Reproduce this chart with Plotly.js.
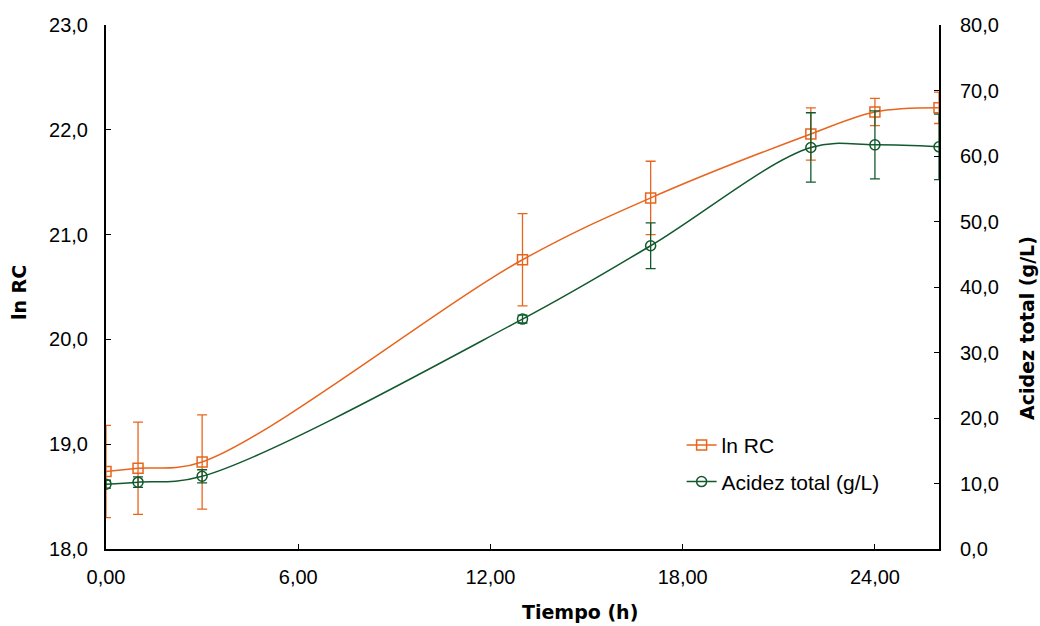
<!DOCTYPE html>
<html>
<head>
<meta charset="utf-8">
<script src="https://cdn.plot.ly/plotly-3.0.1.min.js"></script>
<style>html,body{margin:0;padding:0;background:#fff;}#chart{width:1040px;height:626px;}</style>
</head>
<body>
<div id="chart"></div>
<script>
const tiempo = [0, 1, 3, 13, 17, 22, 24, 26];
const lnRC = [18.74, 18.77, 18.83, 20.76, 21.35, 21.96, 22.17, 22.21];
const lnRCErr = [0.44, 0.44, 0.45, 0.44, 0.35, 0.25, 0.13, 0.15];
const acidez = [9.9, 10.2, 11.1, 35.1, 46.3, 61.3, 61.7, 61.4];
const acidezErr = [0.6, 0.8, 1.0, 0.6, 3.5, 5.3, 5.2, 5.0];

const xTitle = 'Tiempo (h)';
const yTitle = 'ln RC';
const y2Title = 'Acidez total (g/L)';

const orange = '#E8651E';
const green = '#12592E';
const font = 'Liberation Sans, Arial, sans-serif';
const titleFont = {family: 'DejaVu Sans, Liberation Sans, sans-serif', size: 19, color: '#000'};

const traces = [
  {
    x: tiempo, y: lnRC, name: 'ln RC', type: 'scatter', mode: 'lines+markers',
    line: {color: orange, width: 1.5, shape: 'spline', smoothing: 1},
    marker: {symbol: 'square-open', size: 10, color: orange, line: {width: 1.5, color: orange}},
    error_y: {type: 'data', array: lnRCErr, visible: true, color: orange, thickness: 1.3, width: 5},
    legend: 'legend', yaxis: 'y'
  },
  {
    x: tiempo, y: acidez, name: 'Acidez total (g/L)', type: 'scatter', mode: 'lines+markers',
    line: {color: green, width: 1.5, shape: 'spline', smoothing: 1},
    marker: {symbol: 'circle-open', size: 10, color: green, line: {width: 1.5, color: green}},
    error_y: {type: 'data', array: acidezErr, visible: true, color: green, thickness: 1.3, width: 5},
    legend: 'legend2', yaxis: 'y2'
  }
];

const axisCommon = {
  showgrid: false, zeroline: false, showline: true, linecolor: '#000', linewidth: 2,
  ticks: 'inside', ticklen: 5, tickwidth: 1, tickcolor: '#000',
  tickfont: {family: font, size: 20, color: '#000'}
};

const layout = {
  width: 1040, height: 626,
  margin: {l: 106, r: 101, t: 25, b: 77},
  paper_bgcolor: '#fff', plot_bgcolor: '#fff',
  separators: ', ',
  font: {family: font, color: '#000'},
  xaxis: Object.assign({}, axisCommon, {
    range: [0, 26], tickvals: [0, 6, 12, 18, 24], tickformat: '.2f',
    ticklabelstandoff: 9
  }),
  yaxis: Object.assign({}, axisCommon, {
    range: [18, 23], dtick: 1, tick0: 18, tickformat: '.1f',
    ticklabelstandoff: 12
  }),
  yaxis2: Object.assign({}, axisCommon, {
    overlaying: 'y', side: 'right', anchor: 'x',
    range: [0, 80], dtick: 10, tick0: 0, tickformat: '.1f',
    ticklabelstandoff: 15
  }),
  annotations: [
    {text: '<b>' + xTitle + '</b>', xref: 'paper', yref: 'paper', x: 0.569, y: -0.120,
     xanchor: 'center', yanchor: 'middle', showarrow: false, font: titleFont},
    {text: '<b>' + yTitle + '</b>', xref: 'paper', yref: 'paper', x: -0.1044, y: 0.4885,
     xanchor: 'center', yanchor: 'middle', showarrow: false, textangle: -90, font: titleFont},
    {text: '<b>' + y2Title + '</b>', xref: 'paper', yref: 'paper', x: 1.1056, y: 0.4218,
     xanchor: 'center', yanchor: 'middle', showarrow: false, textangle: -90, font: titleFont}
  ],
  legend: {
    x: 0.691, y: 0.198, xanchor: 'left', yanchor: 'middle',
    bgcolor: 'rgba(0,0,0,0)', font: {family: font, size: 21, color: '#000'}
  },
  legend2: {
    x: 0.691, y: 0.128, xanchor: 'left', yanchor: 'middle',
    bgcolor: 'rgba(0,0,0,0)', font: {family: font, size: 21, color: '#000'}
  },
  showlegend: true
};

Plotly.newPlot('chart', traces, layout, {displayModeBar: false, staticPlot: true});
</script>
</body>
</html>
